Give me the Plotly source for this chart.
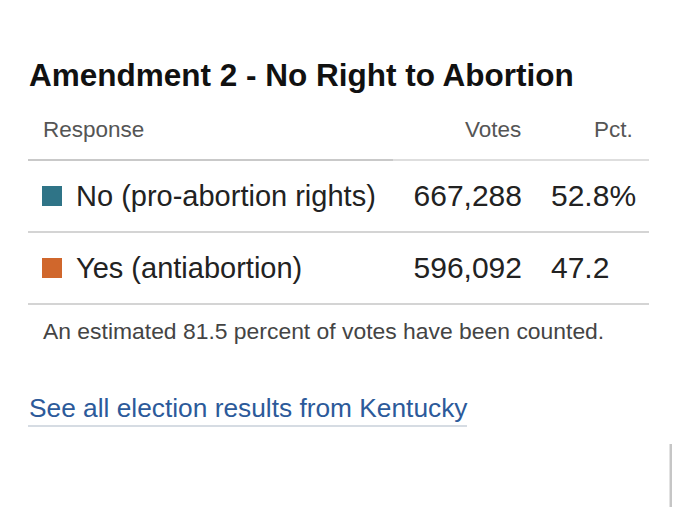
import plotly.graph_objects as go

# ===data===
RESPONSES = ["No (pro-abortion rights)", "Yes (antiabortion)"]
VOTES = [667288, 596092]
PCT = [52.8, 47.2]
SWATCH = ["#2f7487", "#d0672c"]
HEADERS = ["Response", "Votes", "Pct."]
TITLE = "Amendment 2 - No Right to Abortion"
NOTE = "An estimated 81.5 percent of votes have been counted."
LINK = "See all election results from Kentucky"

FONT = "Liberation Sans, Arial, sans-serif"
# the page body adds an 8px margin, so the figure fills what is left of the window
OFF = 8
W, H = 680 - OFF, 510 - OFF

rows = list(range(1, len(RESPONSES) + 1))
text_rows = [r + 0.04 for r in rows]  # nudge glyphs down to sit level with the swatches
vote_text = [f"{v:,}" for v in VOTES]
# only the leading row carries the % sign
pct_text = [f"{p:.1f}%" if i == 0 else f"{p:.1f}" for i, p in enumerate(PCT)]


def py(pix):
    # window pixel-from-top -> paper y
    return 1 - (pix - OFF) / H


fig = go.Figure()

# colour swatches
fig.add_trace(go.Scatter(
    x=[52] * len(rows), y=rows,
    mode='markers',
    marker=dict(symbol='square', size=20, color=SWATCH, line_width=0),
    hoverinfo='skip'
))

# response labels
fig.add_trace(go.Scatter(
    x=[76] * len(rows), y=text_rows,
    mode='text', text=RESPONSES, textposition='middle right',
    textfont=dict(family=FONT, size=29, color='#222222'),
    hoverinfo='skip'
))

# votes, right aligned
fig.add_trace(go.Scatter(
    x=[522] * len(rows), y=text_rows,
    mode='text', text=vote_text, textposition='middle left',
    textfont=dict(family=FONT, size=30, color='#222222'),
    hoverinfo='skip'
))

# pct
fig.add_trace(go.Scatter(
    x=[551] * len(rows), y=text_rows,
    mode='text', text=pct_text, textposition='middle right',
    textfont=dict(family=FONT, size=30, color='#222222'),
    hoverinfo='skip'
))

# ===row rules===
shapes = [
    dict(type='line', xref='x', yref='y', x0=28, x1=393, y0=0.5, y1=0.5,
         line=dict(color='#c9c9c9', width=2)),
    dict(type='line', xref='x', yref='y', x0=393, x1=649, y0=0.5, y1=0.5,
         line=dict(color='#dedede', width=2)),
]
for r in rows:
    shapes.append(dict(type='line', xref='x', yref='y', x0=28, x1=649, y0=r + 0.5, y1=r + 0.5,
                       line=dict(color='#d4d4d4', width=2)))

# link underline + scrollbar
shapes.append(dict(type='line', xref='x', yref='paper', x0=28, x1=467, y0=py(426), y1=py(426),
                   line=dict(color='#c9d0da', width=1.5)))
shapes.append(dict(type='line', xref='x', yref='paper', x0=672, x1=672, y0=py(444), y1=py(507),
                   line=dict(color='#c6c6c6', width=5)))

annotations = [
    dict(text=f"<b>{TITLE}</b>", x=27, y=py(75), xref='x', yref='paper',
         xanchor='left', yanchor='middle', showarrow=False,
         font=dict(family=FONT, size=31.5, color='#111111')),
    dict(text=HEADERS[0], x=41, y=py(129), xref='x', yref='paper',
         xanchor='left', yanchor='middle', showarrow=False,
         font=dict(family=FONT, size=22.5, color='#555555')),
    dict(text=HEADERS[1], x=523, y=py(129), xref='x', yref='paper',
         xanchor='right', yanchor='middle', showarrow=False,
         font=dict(family=FONT, size=22.5, color='#555555')),
    dict(text=HEADERS[2], x=635, y=py(129), xref='x', yref='paper',
         xanchor='right', yanchor='middle', showarrow=False,
         font=dict(family=FONT, size=22.5, color='#555555')),
    dict(text=NOTE, x=41, y=py(331), xref='x', yref='paper',
         xanchor='left', yanchor='middle', showarrow=False,
         font=dict(family=FONT, size=22.9, color='#444444')),
    dict(text=LINK, x=27, y=py(408), xref='x', yref='paper',
         xanchor='left', yanchor='middle', showarrow=False,
         font=dict(family=FONT, size=26.3, color='#2c5a9a')),
]

fig.update_layout(
    width=W, height=H,
    showlegend=False,
    hovermode=False,
    margin=dict(l=0, r=0, t=0, b=0),
    plot_bgcolor='white',
    paper_bgcolor='white',
    # x axis units are window pixels
    xaxis=dict(range=[OFF, 680], visible=False, fixedrange=True),
    # row i sits at 196 + (i-1)*72 px from the top of the window
    yaxis=dict(range=[1 + (510 - 196) / 72, 1 - (196 - OFF) / 72], visible=False, fixedrange=True),
    shapes=shapes,
    annotations=annotations,
)

fig.write_html("out.html", config={'displayModeBar': False})
